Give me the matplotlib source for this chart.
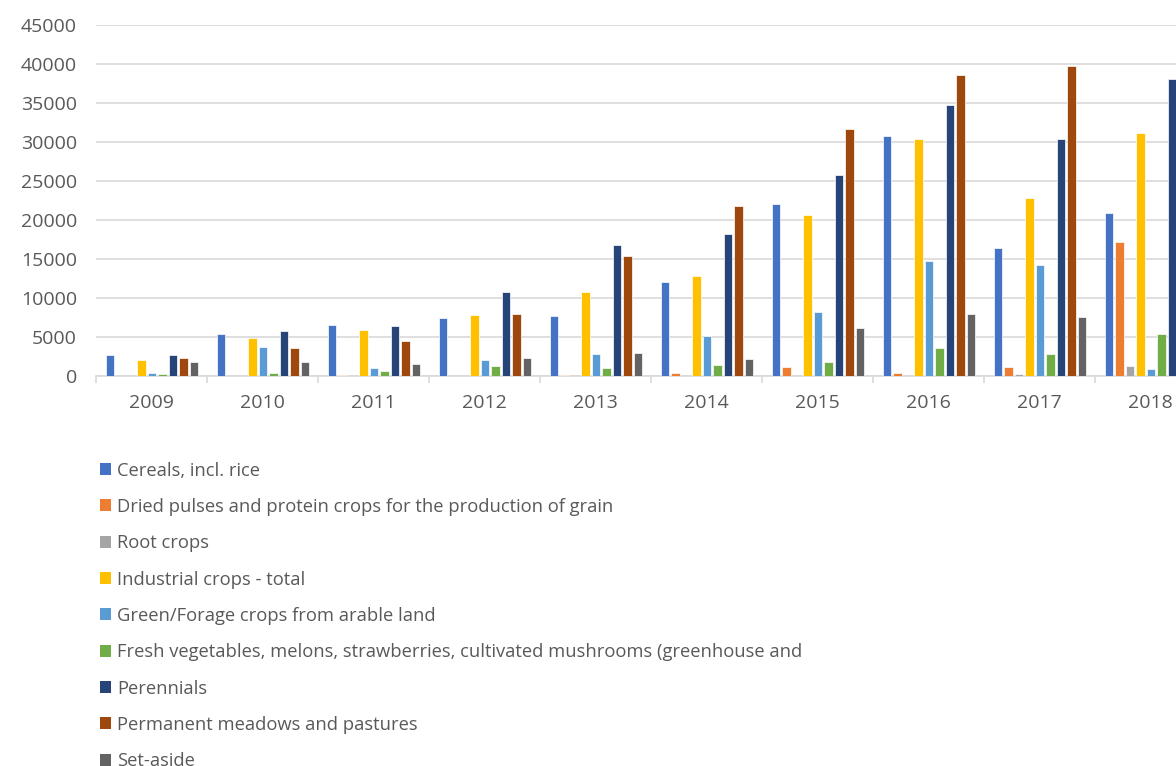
import numpy as np
import matplotlib
matplotlib.use("Agg")
import matplotlib.pyplot as plt
from matplotlib.patches import Patch

plt.rcParams['font.family'] = ['Open Sans', 'DejaVu Sans']

years = ["2009", "2010", "2011", "2012", "2013", "2014", "2015", "2016", "2017", "2018"]

series_names = [
    "Cereals, incl. rice",
    "Dried pulses and protein crops for the production of grain",
    "Root crops",
    "Industrial crops - total",
    "Green/Forage crops from arable land",
    "Fresh vegetables, melons, strawberries, cultivated mushrooms (greenhouse and",
    "Perennials",
    "Permanent meadows and pastures",
    "Set-aside",
]

cereals = [2750, 5350, 6500, 7450, 7650, 12000, 22050, 30800, 16400, 20850]
pulses = [0, 0, 80, 60, 70, 350, 1150, 420, 1150, 17200]
root_crops = [0, 0, 0, 40, 40, 0, 0, 60, 210, 1320]
industrial = [2050, 4900, 5850, 7800, 10800, 12800, 20700, 30350, 22850, 31150]
green_forage = [350, 3750, 1000, 2000, 2850, 5150, 8150, 14800, 14200, 950]
fresh_veg = [220, 430, 650, 1300, 1000, 1400, 1800, 3550, 2800, 5450]
perennials = [2700, 5750, 6400, 10800, 16800, 18150, 25800, 34700, 30350, 38050]
meadows = [2350, 3650, 4500, 7950, 15400, 21750, 31650, 38600, 39750, 41000]
set_aside = [1750, 1750, 1500, 2300, 2900, 2150, 6150, 7900, 7600, 7700]

series = [cereals, pulses, root_crops, industrial, green_forage,
          fresh_veg, perennials, meadows, set_aside]
colors = ["#4472C4", "#ED7D31", "#A5A5A5", "#FFC000", "#5B9BD5",
          "#70AD47", "#264478", "#9E480E", "#636363"]

text_color = "#595959"
grid_color = "#D9D9D9"

fig = plt.figure(figsize=(11.76, 7.66), dpi=100)
ax = fig.add_axes([0.0819, 0.5091, 0.9181, 0.4582])

x = np.arange(len(years))
step = 0.0946
width = 0.076
n = len(series)
for i, (vals, col) in enumerate(zip(series, colors)):
    offs = (i - (n - 1) / 2) * step
    ax.bar(x + offs, vals, width=width, color=col, edgecolor="white",
           linewidth=0.5, zorder=3)

ax.set_yticks(np.arange(0, 45001, 5000))
ax.set_xticks(x)
ax.set_xticklabels(years)
ax.set_xticks(np.arange(-0.5, 10, 1.0), minor=True)
ax.set_ylim(0, 45000)
ax.set_xlim(-0.5, 9.227)

ax.grid(axis="y", color=grid_color, linewidth=1.2, zorder=0)
for s in ["top", "right", "left"]:
    ax.spines[s].set_visible(False)
ax.spines["bottom"].set_color(grid_color)
ax.spines["bottom"].set_linewidth(1.2)

ax.tick_params(axis="x", which="major", length=0, pad=13, labelsize=14,
               labelcolor=text_color)
ax.tick_params(axis="x", which="minor", length=5, width=1.2, color=grid_color)
ax.tick_params(axis="y", length=0, pad=14, labelsize=14, labelcolor=text_color)

handles = [Patch(facecolor=c, edgecolor="none") for c in colors]
leg = fig.legend(handles, series_names, loc="upper left",
                 bbox_to_anchor=(0.085, 0.3975), frameon=False,
                 fontsize=13.2, labelcolor=text_color,
                 handlelength=0.62, handleheight=0.62, handletextpad=0.3,
                 labelspacing=1.0, borderaxespad=0, borderpad=0)

fig.savefig("out.png", dpi=100)
